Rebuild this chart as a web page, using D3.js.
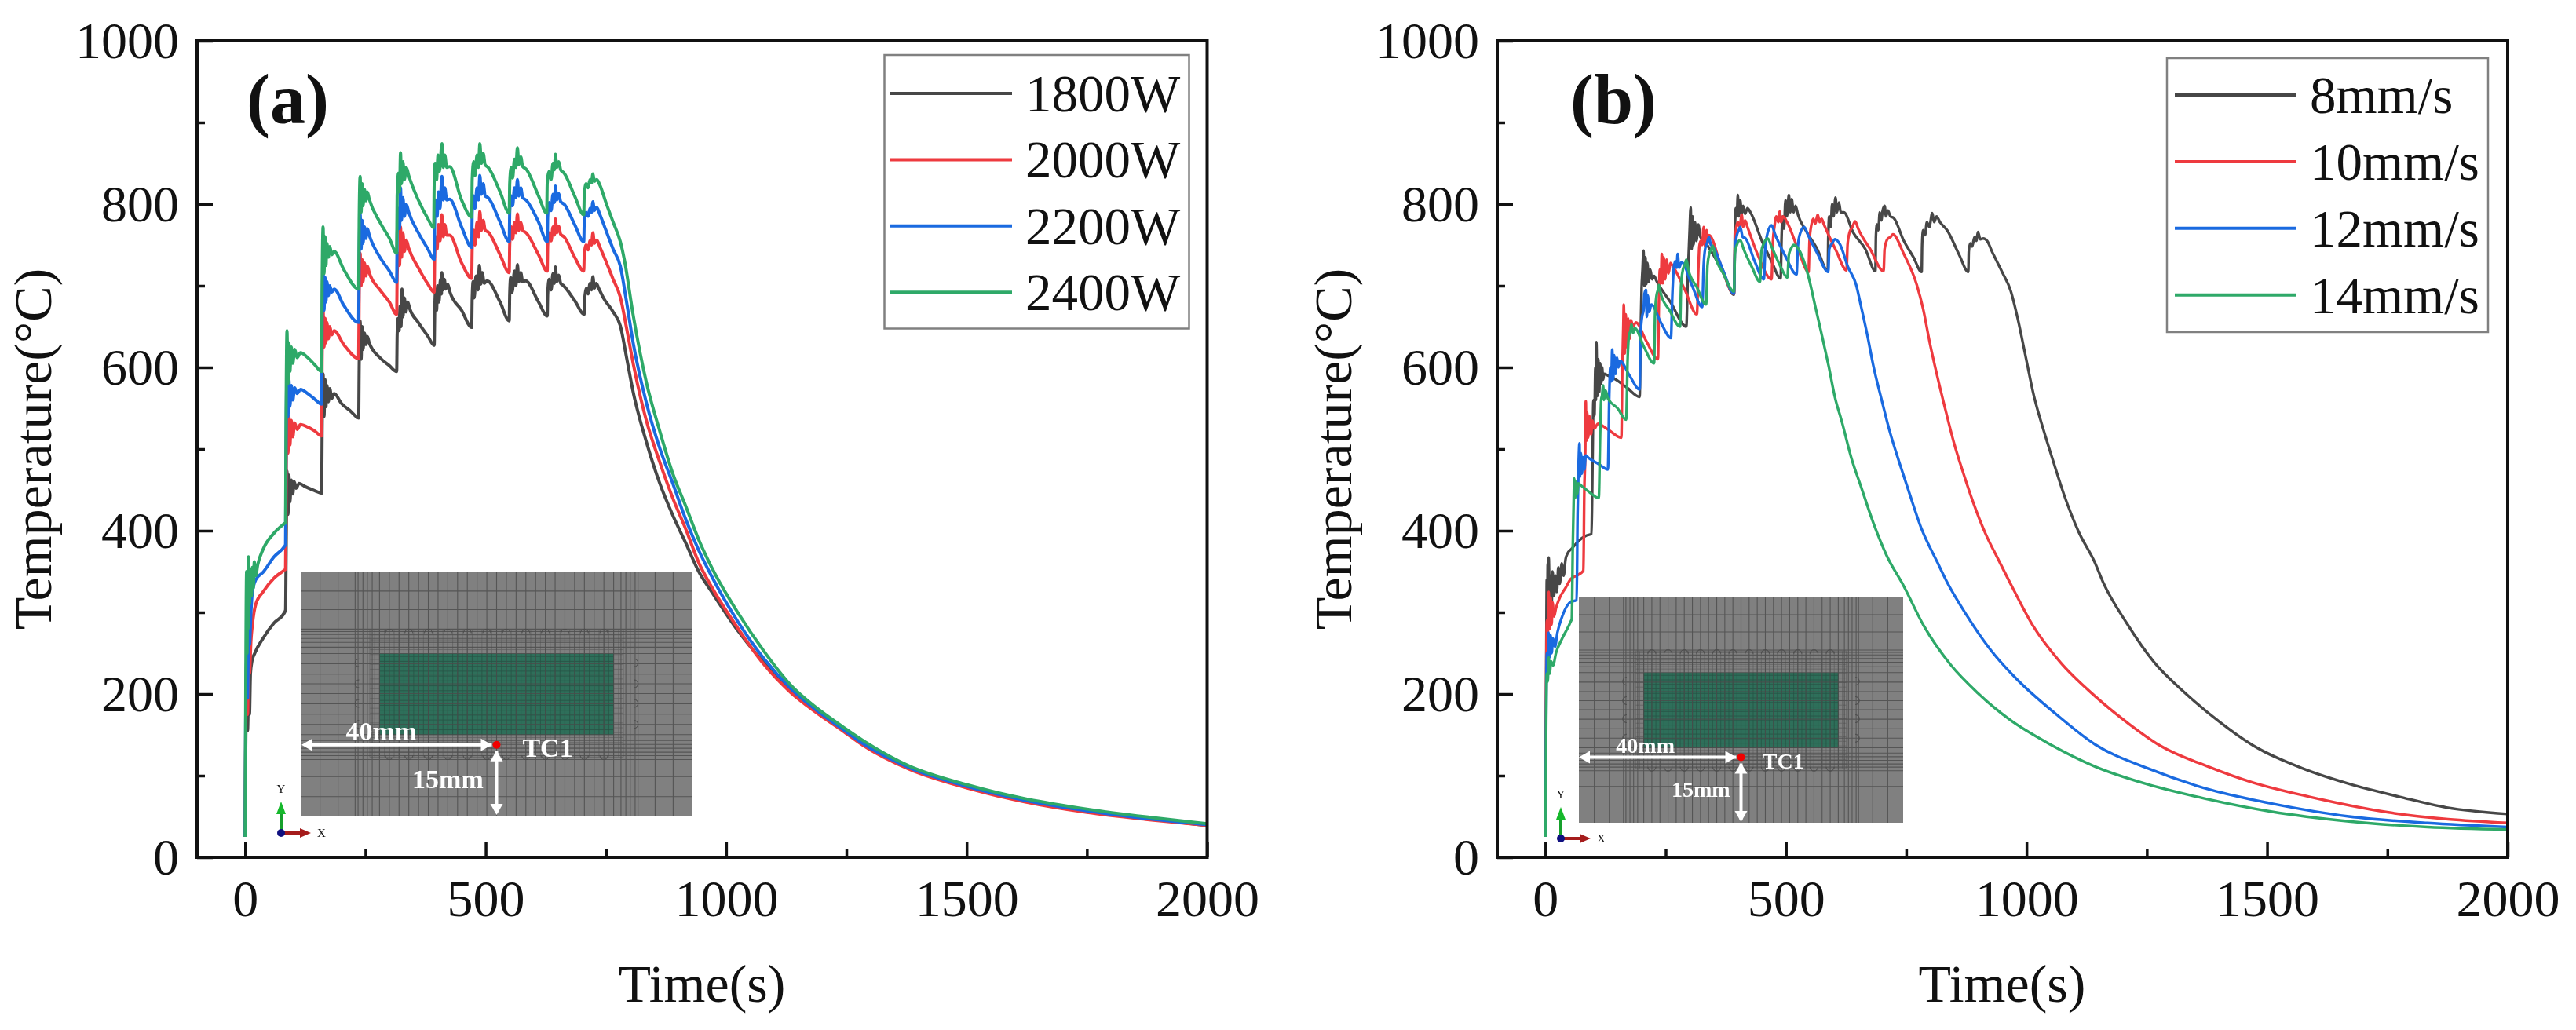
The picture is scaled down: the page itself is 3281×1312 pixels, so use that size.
<!DOCTYPE html>
<html>
<head>
<meta charset="utf-8">
<script src="https://cdn.jsdelivr.net/npm/d3@7"></script>
<style>
  html, body { margin: 0; background: #fff; }
  text { font-family: "Liberation Serif", serif; fill: #111; }
</style>
</head>
<body>
<svg id="chart" width="3281" height="1312"></svg>
<script>
// [time s, temperature C]
var power1800 = [[0,25],[1,120],[3,190],[5,155],[7,200],[9,175],[11,225],[14,240],[20,250],[37,268],[60,287],[82,300],[84,303],
  [85,360],[87,473],[89,420],[91,468],[93,435],[96,462],[99,445],[102,460],[106,452],[112,458],[125,454],[145,449],[159,446],
  [160,520],[162,592],[164,540],[166,585],[168,552],[170,578],[173,558],[176,574],[180,562],[185,568],[200,556],[220,546],[236,538],
  [237,600],[239,657],[241,610],[243,650],[245,622],[248,642],[251,628],[254,638],[258,630],[280,612],[300,602],[315,595],
  [316,640],[318,660],[320,645],[322,675],[324,650],[326,696],[328,662],[331,685],[334,668],[338,680],[342,672],[360,655],[380,638],[393,627],
  [394,665],[396,695],[398,670],[400,700],[403,680],[406,708],[408,690],[409,716],[411,695],[414,708],[417,696],[421,702],[426,692],[450,670],[471,649],
  [472,685],[474,705],[476,685],[480,712],[484,695],[487,725],[490,702],[493,716],[497,703],[503,706],[530,680],[549,657],
  [550,690],[552,710],[555,692],[560,718],[563,700],[566,726],[569,705],[573,716],[577,705],[583,706],[610,680],[628,663],
  [629,690],[632,708],[636,695],[640,715],[643,703],[645,723],[648,705],[652,713],[656,703],[662,700],[685,682],[705,665],
  [706,685],[710,697],[713,690],[717,703],[720,695],[723,711],[726,697],[730,703],[735,697],[745,685],[765,668],[780,651],
  [793,612],[807,569],[834,509],[862,458],[889,419],[916,385],[943,350],[970,325],[1025,277],[1079,238],[1134,204],[1188,179],[1242,157],[1285,139],[1380,110],[1500,87],[1620,70],[1750,57],[1880,47],[2000,39]];

var power2000 = [[0,25],[1,140],[3,215],[5,175],[7,240],[9,225],[12,265],[15,285],[22,310],[37,325],[60,342],[82,352],[84,353],
  [85,440],[87,549],[89,495],[91,540],[93,505],[96,535],[99,515],[103,532],[108,524],[115,530],[130,527],[145,522],[159,516],
  [160,610],[162,671],[164,625],[166,660],[168,630],[170,655],[173,635],[176,650],[180,640],[185,645],[205,628],[236,611],
  [237,690],[239,740],[241,700],[243,732],[245,705],[248,728],[251,712],[254,724],[258,716],[280,695],[300,680],[315,665],
  [316,715],[319,740],[321,725],[323,772],[325,735],[328,765],[331,742],[335,756],[340,746],[360,722],[380,702],[393,692],
  [394,735],[396,760],[399,745],[402,775],[405,755],[409,787],[412,760],[415,775],[419,762],[425,762],[450,728],[471,709],
  [472,745],[475,768],[478,750],[482,778],[485,760],[488,791],[491,768],[495,780],[499,768],[505,766],[530,738],[549,716],
  [550,750],[553,772],[556,757],[560,778],[563,765],[566,788],[569,768],[573,778],[577,768],[584,765],[610,738],[628,718],
  [629,750],[632,765],[636,755],[640,772],[643,762],[645,782],[648,765],[652,773],[656,763],[663,760],[685,735],[704,718],
  [705,738],[709,750],[713,744],[717,755],[720,750],[723,765],[726,752],[731,756],[737,748],[750,730],[765,708],[780,686],
  [793,648],[807,604],[834,535],[862,484],[889,440],[916,402],[943,361],[970,331],[1025,280],[1079,236],[1134,202],[1188,177],[1242,155],[1285,137],[1380,108],[1500,85],[1620,68],[1750,55],[1880,46],[2000,39]];

var power2200 = [[0,25],[1,160],[3,240],[5,195],[7,280],[9,260],[12,300],[15,325],[22,340],[37,349],[60,368],[82,381],[84,383],
  [85,500],[87,592],[89,540],[91,585],[93,552],[96,578],[99,560],[103,575],[108,568],[115,573],[130,568],[145,561],[159,555],
  [160,660],[162,720],[164,670],[166,710],[168,680],[170,705],[173,688],[176,700],[180,692],[185,696],[205,676],[236,655],
  [237,735],[239,788],[241,745],[243,780],[245,752],[248,772],[251,758],[254,770],[258,762],[280,735],[300,718],[315,704],
  [316,765],[319,795],[321,770],[323,820],[325,780],[328,808],[331,785],[335,800],[340,790],[360,765],[380,745],[393,732],
  [394,780],[396,805],[399,785],[402,815],[405,795],[409,834],[412,805],[415,820],[419,805],[425,806],[450,772],[471,747],
  [472,790],[475,810],[478,795],[482,820],[485,805],[488,835],[491,812],[495,825],[499,810],[505,808],[530,778],[549,754],
  [550,790],[553,810],[556,798],[560,820],[563,808],[566,830],[569,810],[573,820],[577,808],[584,805],[610,778],[628,754],
  [629,785],[632,802],[636,792],[640,812],[643,802],[645,822],[648,805],[652,813],[656,803],[663,800],[685,775],[704,754],
  [705,778],[709,790],[713,785],[717,795],[720,790],[723,803],[726,792],[731,796],[737,788],[750,768],[765,745],[780,724],
  [793,680],[807,629],[834,557],[862,501],[889,458],[916,414],[943,376],[970,344],[1025,288],[1079,243],[1134,207],[1188,180],[1242,157],[1285,139],[1380,110],[1500,87],[1620,70],[1750,57],[1880,47],[2000,40]];

var power2400 = [[0,25],[1,180],[3,350],[4,250],[5,345],[6,280],[7,368],[9,310],[11,352],[13,320],[15,355],[17,330],[19,362],[22,345],[26,358],[37,377],[60,397],[82,409],[84,410],
  [85,530],[87,645],[89,580],[91,630],[93,595],[96,625],[99,605],[103,622],[108,612],[115,618],[130,612],[145,603],[159,595],
  [160,700],[162,772],[164,715],[166,760],[168,725],[170,752],[173,735],[176,748],[180,738],[185,742],[205,720],[236,696],
  [237,780],[239,834],[241,790],[243,825],[245,798],[248,818],[251,804],[254,815],[258,806],[280,778],[300,758],[315,740],
  [316,810],[319,838],[321,815],[323,863],[325,825],[328,852],[331,830],[335,845],[340,835],[360,805],[380,782],[392,771],
  [393,825],[395,850],[398,830],[401,860],[404,840],[409,874],[412,845],[415,860],[419,845],[425,846],[450,805],[471,784],
  [472,830],[475,852],[478,835],[482,860],[485,845],[488,874],[491,850],[495,862],[499,848],[505,845],[530,815],[549,789],
  [550,825],[553,845],[556,832],[560,855],[563,845],[566,869],[569,848],[573,858],[577,846],[584,843],[610,810],[627,789],
  [628,825],[632,840],[636,830],[640,850],[643,842],[645,861],[648,845],[652,852],[656,842],[663,838],[685,810],[704,787],
  [705,812],[709,825],[713,820],[717,830],[720,826],[723,837],[726,828],[731,830],[737,824],[750,802],[765,778],[780,754],
  [788,733],[807,663],[834,582],[862,522],[889,470],[916,430],[943,389],[970,355],[1025,299],[1079,252],[1134,211],[1188,183],[1242,160],[1290,141],[1380,112],[1500,89],[1620,72],[1750,59],[1880,49],[2000,41]];

var speed8 = [[0,25],[1,150],[2,250],[3,340],[4,300],[5,360],[6,310],[7,367],[9,315],[11,345],[13,310],[15,350],[18,320],[21,345],[24,325],[27,355],[30,335],[34,360],[38,345],[42,365],[46,372],[55,378],[70,388],[85,394],[96,396],
  [98,480],[100,560],[102,541],[104,600],[105,560],[106,631],[108,565],[110,610],[112,570],[114,605],[116,580],[118,600],[120,585],[122,592],[130,590],[144,586],[170,575],[196,564],
  [198,640],[200,696],[202,720],[204,743],[206,700],[208,735],[210,702],[212,728],[215,705],[218,720],[222,708],[226,712],[231,706],[260,680],[293,650],
  [296,710],[298,740],[300,770],[302,796],[304,745],[306,785],[308,750],[311,778],[314,755],[318,775],[322,760],[330,755],[348,739],[370,715],[392,689],
  [394,770],[396,795],[398,785],[400,811],[402,785],[405,805],[408,788],[411,798],[415,788],[420,795],[427,789],[450,755],[470,730],[489,709],
  [491,760],[493,785],[496,770],[499,805],[502,785],[506,811],[509,790],[512,806],[516,790],[520,798],[525,787],[541,768],[565,745],[587,718],
  [588,760],[590,785],[593,772],[596,800],[599,785],[603,808],[606,790],[610,802],[614,790],[620,790],[640,765],[665,745],[686,718],
  [687,760],[689,775],[692,768],[695,790],[698,780],[701,792],[705,798],[708,785],[712,792],[717,785],[724,783],[745,755],[765,735],[782,717],
  [783,750],[785,768],[789,762],[793,778],[798,772],[804,789],[808,778],[813,785],[820,778],[835,768],[860,738],[879,717],
  [880,742],[883,752],[887,748],[892,760],[896,755],[899,766],[904,757],[910,758],[918,755],[929,741],[950,716],[967,694],[982,659],[999,611],[1015,566],[1035,524],[1055,486],[1078,444],[1108,399],[1142,361],[1159,337],[1208,287],[1265,239],[1330,201],[1403,165],[1468,138],[1573,109],[1670,90],[1776,74],[1873,61],[2000,53]];

var speed10 = [[0,25],[1,130],[2,230],[3,290],[5,270],[7,325],[9,280],[11,318],[13,285],[15,312],[18,295],[22,305],[30,318],[42,330],[53,341],[65,345],[79,351],
  [81,450],[83,500],[84,559],[85,510],[87,545],[89,514],[92,540],[95,518],[98,535],[102,525],[109,531],[130,524],[158,514],
  [160,600],[162,650],[163,677],[165,617],[167,665],[169,625],[172,660],[175,635],[178,658],[182,650],[188,655],[210,632],[234,610],
  [236,680],[238,720],[240,703],[242,739],[244,703],[246,735],[249,708],[252,732],[256,715],[260,728],[264,725],[290,695],[315,665],
  [318,720],[320,748],[323,755],[326,750],[329,772],[332,748],[335,768],[338,752],[340,762],[365,725],[392,690],
  [394,750],[397,772],[400,778],[404,772],[408,787],[411,772],[415,780],[420,772],[440,740],[470,708],
  [473,755],[476,772],[480,785],[484,778],[487,791],[490,778],[494,785],[503,777],[525,745],[547,717],
  [549,755],[553,775],[557,782],[561,776],[566,787],[570,778],[574,782],[579,775],[605,742],[626,719],
  [628,750],[632,765],[638,772],[644,779],[650,770],[675,745],[703,718],
  [705,745],[712,758],[718,760],[722,763],[745,739],[772,701],[785,672],[799,630],[815,588],[832,547],[849,508],[869,470],[889,435],[915,396],[942,364],[972,329],[1013,284],[1070,239],[1143,197],[1216,162],[1277,137],[1378,111],[1468,92],[1589,74],[1752,55],[2000,42]];

var speed12 = [[0,25],[1,110],[2,200],[3,250],[5,235],[7,275],[9,245],[11,272],[13,250],[16,268],[20,258],[25,275],[35,295],[53,313],[60,314],[65,315],
  [67,420],[69,480],[71,507],[72,466],[74,495],[76,470],[78,490],[81,475],[84,492],[90,489],[110,482],[130,475],
  [133,570],[135,600],[137,583],[139,622],[141,585],[143,615],[146,592],[149,612],[152,600],[155,608],[175,590],[196,573],
  [198,640],[201,662],[204,670],[206,690],[209,695],[211,662],[213,688],[216,668],[220,677],[240,655],[261,636],
  [264,690],[267,722],[270,730],[273,722],[275,739],[278,722],[283,729],[305,700],[326,674],
  [329,725],[332,745],[336,752],[340,760],[344,750],[348,748],[370,718],[392,690],
  [394,745],[398,762],[402,768],[405,772],[410,760],[416,758],[435,730],[454,708],
  [457,745],[462,765],[470,774],[478,762],[500,735],[522,714],
  [525,750],[530,765],[538,772],[546,762],[565,740],[588,717],
  [590,745],[596,752],[602,757],[612,751],[629,723],[646,701],[656,675],[669,640],[682,601],[699,560],[716,521],[736,483],[756,447],[782,402],[815,361],[834,338],[875,297],[924,255],[980,218],[1062,175],[1143,138],[1256,108],[1386,82],[1508,66],[1670,50],[1833,42],[2000,37]];

var speed14 = [[0,25],[1,100],[2,180],[3,225],[5,215],[7,245],[9,225],[12,240],[16,235],[22,250],[35,268],[53,289],[55,292],
  [57,380],[59,440],[60,464],[62,440],[64,460],[66,445],[69,458],[73,456],[90,448],[111,440],
  [114,520],[116,560],[118,566],[120,578],[122,560],[125,572],[130,562],[150,550],[168,536],
  [171,610],[174,640],[177,645],[179,653],[182,642],[186,648],[205,625],[226,605],
  [228,665],[231,688],[234,695],[236,701],[240,690],[258,670],[280,650],
  [282,700],[286,720],[290,726],[293,732],[297,720],[315,698],[334,677],
  [337,725],[341,740],[345,745],[348,749],[352,738],[370,715],[392,693],
  [394,740],[398,750],[405,756],[412,745],[430,722],[446,705],
  [449,742],[454,752],[462,758],[470,748],[490,722],[503,710],
  [506,738],[511,746],[516,750],[530,741],[546,713],[562,672],[576,636],[589,601],[602,563],[616,534],[636,489],[656,454],[682,409],[709,370],[745,332],[786,284],[842,236],[899,201],[964,169],[1050,138],[1143,111],[1248,90],[1370,72],[1508,56],[1670,44],[1833,37],[2000,34]];

var seriesA = [power1800, power2000, power2200, power2400];
var seriesB = [speed8, speed10, speed12, speed14];
var legendA = ["1800W", "2000W", "2200W", "2400W"];
var legendB = ["8mm/s", "10mm/s", "12mm/s", "14mm/s"];
var lineColors = ["#474747", "#ee3a3f", "#1a6ae0", "#2ea968"];

var xMajor = [0, 500, 1000, 1500, 2000];
var xMinor = [250, 750, 1250, 1750];
var yMajor = [0, 200, 400, 600, 800, 1000];
var yMinor = [100, 300, 500, 700, 900];

// inset mesh, in model millimetres (80 x 50 plate)
var meshX = [3.8,7.5,11,11.6,12.6,13.5,14.5,16,18,20,22,24,26,28,30,32,34,36,38,40,42,44,46,48,50,52,54,56,58,60,62,64,65.5,66.5,67.4,68.4,69,72.5,76.2];
var meshY = [3.9,8,11.5,12.3,13,13.8,14.6,15.4,16.6,18.7,20.8,22.9,25,27,29,31.1,33.2,34.5,35.5,36.3,37.1,37.7,38.2,42.2,46];
var beadX = [18,22,26,30,34,38,42,46,50,54,58,62];
var beadY = [18.7,23,27,31.3];

var svg = d3.select("#chart");

function drawInset(g, box, triad, fontSize) {
  var mx = d3.scaleLinear().domain([0, 80]).range([box.x0, box.x1]);
  var my = d3.scaleLinear().domain([0, 50]).range([box.y1, box.y0]);
  g.append("rect").attr("x", box.x0).attr("y", box.y0)
    .attr("width", box.x1 - box.x0).attr("height", box.y1 - box.y0).attr("fill", "#808080");

  // finer grid in the ring round the green block
  var ring = g.append("g").attr("stroke", "#4b4b4b").attr("stroke-width", 0.8).attr("opacity", 0.55);
  ring.selectAll("line.rx").data(d3.range(14, 66.1, 1)).enter().append("line").attr("class", "rx")
    .attr("x1", mx).attr("x2", mx).attr("y1", my(38)).attr("y2", my(12));
  ring.selectAll("line.ry").data(d3.range(12, 38.1, 1)).enter().append("line").attr("class", "ry")
    .attr("y1", my).attr("y2", my).attr("x1", mx(14)).attr("x2", mx(66));

  g.append("rect").attr("x", mx(16)).attr("y", my(33.2))
    .attr("width", mx(64) - mx(16)).attr("height", my(16.6) - my(33.2)).attr("fill", "#2e6f5a");

  var fine = g.append("g").attr("stroke", "#24483c").attr("stroke-width", 0.8).attr("opacity", 0.7);
  fine.selectAll("line.fx").data(d3.range(16, 64.1, 1)).enter().append("line").attr("class", "fx")
    .attr("x1", mx).attr("x2", mx).attr("y1", my(33.2)).attr("y2", my(16.6));
  fine.selectAll("line.fy").data(d3.range(16.6, 33.3, 1)).enter().append("line").attr("class", "fy")
    .attr("y1", my).attr("y2", my).attr("x1", mx(16)).attr("x2", mx(64));

  var mesh = g.append("g").attr("stroke", "#4b4b4b").attr("stroke-width", 1.1).attr("opacity", 0.8);
  mesh.selectAll("line.mx").data(meshX).enter().append("line").attr("class", "mx")
    .attr("x1", mx).attr("x2", mx).attr("y1", box.y0).attr("y2", box.y1);
  mesh.selectAll("line.my").data(meshY).enter().append("line").attr("class", "my")
    .attr("y1", my).attr("y2", my).attr("x1", box.x0).attr("x2", box.x1);

  // half round bumps along the edge of the welded zone
  var bump = d3.arc().innerRadius(5).outerRadius(5).startAngle(-Math.PI / 2).endAngle(Math.PI / 2);
  var beads = g.append("g").attr("fill", "none").attr("stroke", "#4b4b4b").attr("stroke-width", 1).attr("opacity", 0.8);
  [[37.4, 0], [12.3, 180]].forEach(function(row) {
    beads.selectAll(null).data(beadX).enter().append("path").attr("d", bump())
      .attr("transform", function(d) { return "translate(" + mx(d) + "," + my(row[0]) + ") rotate(" + row[1] + ")"; });
  });
  [[11.8, -90], [68.2, 90]].forEach(function(col) {
    beads.selectAll(null).data(beadY).enter().append("path").attr("d", bump())
      .attr("transform", function(d) { return "translate(" + mx(col[0]) + "," + my(d) + ") rotate(" + col[1] + ")"; });
  });

  // 40mm and 15mm arrows ending at TC1
  var px = mx(40), py = my(14.5), head = 14;
  var ann = g.append("g").attr("stroke", "#fff").attr("stroke-width", 4);
  ann.append("line").attr("x1", box.x0 + 6).attr("x2", px - 6).attr("y1", py).attr("y2", py);
  ann.append("line").attr("x1", px).attr("x2", px).attr("y1", py + 8).attr("y2", box.y1 - 4);
  var heads = [
    [[box.x0, py], [box.x0 + head, py - 8], [box.x0 + head, py + 8]],
    [[px - 6, py], [px - 6 - head, py - 8], [px - 6 - head, py + 8]],
    [[px, py + 7], [px - 8, py + 7 + head], [px + 8, py + 7 + head]],
    [[px, box.y1 - 1], [px - 8, box.y1 - 1 - head], [px + 8, box.y1 - 1 - head]]
  ];
  g.selectAll("polygon.head").data(heads).enter().append("polygon").attr("class", "head")
    .attr("points", function(d) { return d.join(" "); }).attr("fill", "#fff");
  g.append("circle").attr("cx", px).attr("cy", py).attr("r", 5).attr("fill", "#f00000");

  function label(txt, xm, ym, anchor) {
    g.append("text").attr("x", mx(xm)).attr("y", my(ym)).attr("text-anchor", anchor)
      .attr("font-size", fontSize).attr("font-weight", "bold").style("fill", "#fff").text(txt);
  }
  label("40mm", 16.4, 15.4, "middle");
  label("TC1", 45.3, 12, "start");
  label("15mm", 37.3, 5.7, "end");

  // coordinate triad below the mesh
  var tx = triad.x, ty = triad.y;
  g.append("line").attr("x1", tx).attr("x2", tx).attr("y1", ty).attr("y2", ty - 28)
    .attr("stroke", "#16a02c").attr("stroke-width", 4);
  g.append("polygon").attr("points", [[tx, ty - 40], [tx - 6, ty - 24], [tx + 6, ty - 24]].join(" ")).attr("fill", "#16b82c");
  g.append("line").attr("x1", tx).attr("x2", tx + 28).attr("y1", ty).attr("y2", ty)
    .attr("stroke", "#a51c1c").attr("stroke-width", 4);
  g.append("polygon").attr("points", [[tx + 38, ty], [tx + 24, ty - 6], [tx + 24, ty + 6]].join(" ")).attr("fill", "#a51c1c");
  g.append("circle").attr("cx", tx).attr("cy", ty).attr("r", 5).attr("fill", "#101080");
  g.append("text").attr("x", tx).attr("y", ty - 51).attr("text-anchor", "middle").attr("font-size", 15).text("Y");
  g.append("text").attr("x", tx + 46).attr("y", ty + 5).attr("font-size", 15).text("X");
}

function drawPanel(p) {
  var x = d3.scaleLinear().domain([-100, 2000]).range([p.left, p.right]);
  var y = d3.scaleLinear().domain([0, 1000]).range([1092, 52]);
  var g = svg.append("g");

  var line = d3.line().curve(d3.curveMonotoneX).x(function(d) { return x(d[0]); }).y(function(d) { return y(d[1]); });
  g.selectAll("path.curve").data(p.series).enter().append("path").attr("class", "curve")
    .attr("d", line).attr("fill", "none").attr("stroke-width", p.lineWidth).attr("stroke-linejoin", "round")
    .attr("stroke", function(d, i) { return lineColors[i]; });

  drawInset(g, p.inset, p.triad, p.insetFont);

  g.append("rect").attr("x", p.left).attr("y", 52).attr("width", p.right - p.left).attr("height", 1040)
    .attr("fill", "none").attr("stroke", "#111").attr("stroke-width", 4);

  var xAxis = g.append("g").attr("transform", "translate(0,1092)")
    .call(d3.axisBottom(x).tickValues(xMajor).tickSizeInner(-20).tickSizeOuter(0).tickPadding(28).tickFormat(d3.format("d")));
  var yAxis = g.append("g").attr("transform", "translate(" + p.left + ",0)")
    .call(d3.axisLeft(y).tickValues(yMajor).tickSizeInner(-20).tickSizeOuter(0).tickPadding(23).tickFormat(d3.format("d")));
  g.append("g").attr("transform", "translate(0,1092)")
    .call(d3.axisBottom(x).tickValues(xMinor).tickSizeInner(-10).tickSizeOuter(0).tickFormat(""));
  g.append("g").attr("transform", "translate(" + p.left + ",0)")
    .call(d3.axisLeft(y).tickValues(yMinor).tickSizeInner(-10).tickSizeOuter(0).tickFormat(""));
  g.selectAll(".tick line").attr("stroke", "#111").attr("stroke-width", 3.5);
  g.selectAll(".domain").attr("stroke", "none");
  xAxis.selectAll("text").attr("font-size", 66).attr("font-family", "Liberation Serif").style("fill", "#111");
  yAxis.selectAll("text").attr("font-size", 66).attr("font-family", "Liberation Serif").style("fill", "#111");

  g.append("text").attr("x", p.timeX).attr("y", 1276).attr("text-anchor", "middle").attr("font-size", 68).text("Time(s)");
  g.append("text").attr("transform", "translate(" + p.tempX + ",572) rotate(-90)")
    .attr("text-anchor", "middle").attr("font-size", 68).text("Temperature(°C)");
  g.append("text").attr("x", p.tagX).attr("y", 157).attr("font-size", 90).attr("font-weight", "bold").text(p.tag);

  var lg = p.legend;
  g.append("rect").attr("x", lg.x0).attr("y", lg.y0).attr("width", lg.x1 - lg.x0).attr("height", lg.y1 - lg.y0)
    .attr("fill", "#fff").attr("stroke", "#808080").attr("stroke-width", 2.5);
  var rows = g.selectAll("g.row").data(p.names).enter().append("g").attr("class", "row")
    .attr("transform", function(d, i) { return "translate(0," + (lg.first + i * lg.step) + ")"; });
  rows.append("line").attr("x1", lg.lineX0).attr("x2", lg.lineX1).attr("stroke-width", 4)
    .attr("stroke", function(d, i) { return lineColors[i]; });
  rows.append("text").attr("x", lg.textX).attr("y", 23).attr("font-size", 67).text(function(d) { return d; });
}

drawPanel({
  left: 251, right: 1537.5, series: seriesA, names: legendA, tag: "(a)", tagX: 314, timeX: 894, tempX: 65, lineWidth: 4,
  inset: { x0: 384, x1: 881, y0: 728, y1: 1039 }, triad: { x: 358, y: 1061 }, insetFont: 34,
  legend: { x0: 1126.5, x1: 1514.5, y0: 70, y1: 418.5, first: 119, step: 84.4, lineX0: 1134, lineX1: 1289, textX: 1306 }
});
drawPanel({
  left: 1907, right: 3194, series: seriesB, names: legendB, tag: "(b)", tagX: 2000, timeX: 2550, tempX: 1721, lineWidth: 3.4,
  inset: { x0: 2011, x1: 2424, y0: 760, y1: 1048 }, triad: { x: 1988, y: 1068 }, insetFont: 28,
  legend: { x0: 2760, x1: 3169, y0: 74, y1: 423, first: 121, step: 84.9, lineX0: 2770, lineX1: 2925, textX: 2942 }
});
</script>
</body>
</html>
